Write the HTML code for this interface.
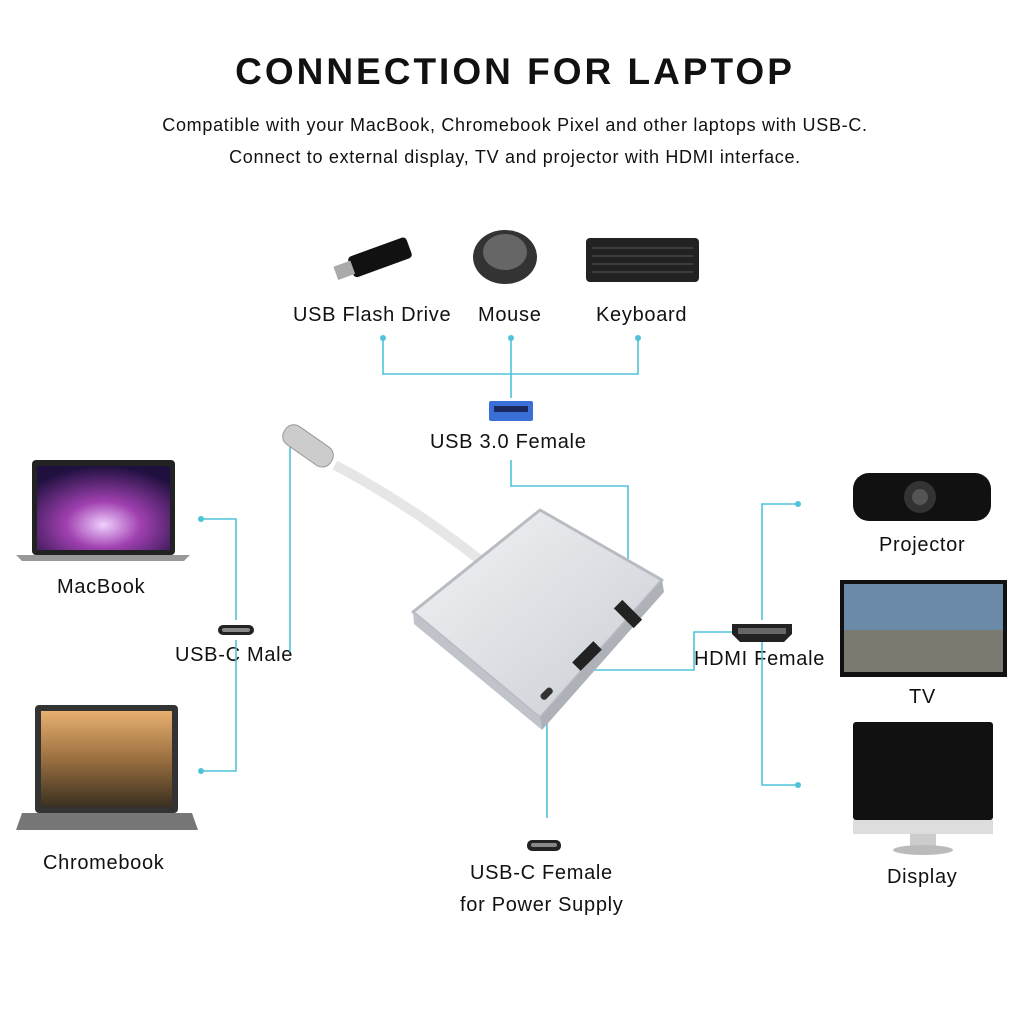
<!DOCTYPE html>
<html><head><meta charset="utf-8">
<style>
html,body{margin:0;padding:0;background:#fff;}
body{width:1024px;height:1014px;position:relative;overflow:hidden;font-family:"Liberation Sans",sans-serif;color:#111;}
.t{position:absolute;white-space:nowrap;}
.l{font-size:20px;letter-spacing:0.7px;}
</style></head><body>
<div class="t" style="left:0;width:1030px;text-align:center;top:51px;font-size:37px;font-weight:bold;letter-spacing:3px;">CONNECTION FOR LAPTOP</div>
<div class="t" style="left:0;width:1030px;text-align:center;top:115px;font-size:18px;letter-spacing:0.7px;">Compatible with your MacBook, Chromebook Pixel and other laptops with USB-C.</div>
<div class="t" style="left:0;width:1030px;text-align:center;top:147px;font-size:18px;letter-spacing:0.7px;">Connect to external display, TV and projector with HDMI interface.</div>

<div class="t l" style="left:293px;top:304px;">USB Flash Drive</div>
<div class="t l" style="left:478px;top:304px;">Mouse</div>
<div class="t l" style="left:596px;top:304px;">Keyboard</div>
<div class="t l" style="left:430px;top:431px;">USB 3.0 Female</div>
<div class="t l" style="left:57px;top:576px;">MacBook</div>
<div class="t l" style="left:175px;top:644px;">USB-C Male</div>
<div class="t l" style="left:43px;top:852px;">Chromebook</div>
<div class="t l" style="left:879px;top:534px;">Projector</div>
<div class="t l" style="left:694px;top:648px;">HDMI Female</div>
<div class="t l" style="left:909px;top:686px;">TV</div>
<div class="t l" style="left:887px;top:866px;">Display</div>
<div class="t l" style="left:470px;top:862px;">USB-C Female</div>
<div class="t l" style="left:460px;top:894px;">for Power Supply</div>

<svg width="1024" height="1014" style="position:absolute;left:0;top:0">
<g fill="none" stroke="#4fc3d8" stroke-width="1.6">
<path d="M383 338V374H638V338M511 338V398"/>
<path d="M511 460V486H628V600"/>
<path d="M201 519H236V620M236 640V771H201"/>
<path d="M290 440V652"/>
<path d="M798 504H762V620M762 642V785H798"/>
<path d="M590 670H694V632H732"/>
<path d="M547 700V818"/>
</g>
<g fill="#4fc3d8">
<circle cx="383" cy="338" r="3"/><circle cx="511" cy="338" r="3"/><circle cx="638" cy="338" r="3"/>
<circle cx="201" cy="519" r="3"/><circle cx="201" cy="771" r="3"/>
<circle cx="798" cy="504" r="3"/><circle cx="798" cy="785" r="3"/>
</g>
<rect x="489" y="401" width="44" height="20" rx="2" fill="#3a6fd8"/><rect x="494" y="406" width="34" height="6" fill="#1a2a60"/>
<rect x="218" y="625" width="36" height="10" rx="5" fill="#222"/><rect x="222" y="628" width="28" height="4" rx="2" fill="#888"/>
<path d="M732 624H792V634L784 642H740L732 634Z" fill="#222"/><rect x="738" y="628" width="48" height="6" fill="#666"/>
<rect x="527" y="840" width="34" height="11" rx="5" fill="#222"/><rect x="531" y="843" width="26" height="4" rx="2" fill="#888"/>

<g transform="rotate(-20 370 262)"><rect x="350" y="250" width="62" height="22" rx="4" fill="#111"/><rect x="334" y="254" width="18" height="14" fill="#aaa"/></g>
<ellipse cx="505" cy="257" rx="32" ry="27" fill="#333"/><ellipse cx="505" cy="252" rx="22" ry="18" fill="#666"/>
<rect x="586" y="238" width="113" height="44" rx="4" fill="#222"/>
<g stroke="#555" stroke-width="1"><path d="M592 248H693M592 256H693M592 264H693M592 272H693"/></g>
<defs><radialGradient id="m" cx="0.5" cy="0.7" r="0.7"><stop offset="0" stop-color="#f0d0ff"/><stop offset="0.4" stop-color="#a040b0"/><stop offset="1" stop-color="#201040"/></radialGradient>
<linearGradient id="c" x1="0" y1="0" x2="0" y2="1"><stop offset="0" stop-color="#e8b070"/><stop offset="0.5" stop-color="#9a7040"/><stop offset="1" stop-color="#3a3020"/></linearGradient>
<linearGradient id="s" x1="0" y1="0" x2="1" y2="1"><stop offset="0" stop-color="#f2f3f5"/><stop offset="1" stop-color="#c9cdd3"/></linearGradient></defs>
<rect x="32" y="460" width="143" height="95" rx="4" fill="#222"/>
<rect x="37" y="466" width="133" height="84" fill="url(#m)"/>
<path d="M16 555H190L184 561H22Z" fill="#999"/>
<rect x="35" y="705" width="143" height="108" rx="4" fill="#333"/>
<rect x="41" y="711" width="131" height="96" fill="url(#c)"/>
<path d="M22 813H192L198 830H16Z" fill="#777"/>
<rect x="853" y="473" width="138" height="48" rx="16" fill="#111"/><circle cx="920" cy="497" r="16" fill="#333"/><circle cx="920" cy="497" r="8" fill="#555"/>
<rect x="840" y="580" width="167" height="97" fill="#111"/><rect x="844" y="584" width="159" height="88" fill="#6a8aa8"/><rect x="844" y="630" width="159" height="42" fill="#7a7a70"/>
<rect x="853" y="722" width="140" height="98" rx="3" fill="#111"/><rect x="853" y="820" width="140" height="14" fill="#ddd"/><rect x="910" y="834" width="26" height="12" fill="#ccc"/><ellipse cx="923" cy="850" rx="30" ry="5" fill="#bbb"/>
<g transform="rotate(35 305 445)"><rect x="280" y="433" width="56" height="22" rx="10" fill="#ccc" stroke="#999"/></g>
<path d="M335 465 Q410 505 480 560" stroke="#e6e6e6" stroke-width="10" fill="none"/>
<path d="M413 612 L540 510 L662 580 L540 718 Z" fill="url(#s)" stroke="#b8bcc2" stroke-linejoin="round" stroke-width="3"/>
<path d="M540 718 L662 580 L664 592 L542 730 Z" fill="#aeb2b8"/>
<path d="M413 612 L540 718 L542 730 L414 624 Z" fill="#c0c4ca"/>
<rect x="622" y="600" width="12" height="28" fill="#222" transform="rotate(-45 628 614)"/>
<rect x="572" y="650" width="30" height="12" fill="#222" transform="rotate(-45 587 656)"/>
<rect x="540" y="690" width="14" height="7" rx="3" fill="#333" transform="rotate(-45 547 694)"/>
</svg>
</body></html>
